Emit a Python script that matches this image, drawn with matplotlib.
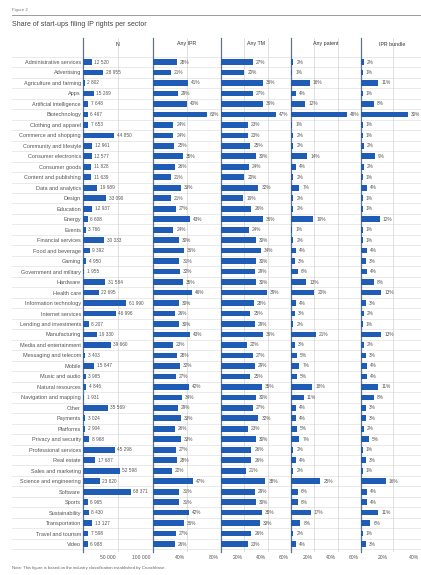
import matplotlib
matplotlib.use('Agg')
import matplotlib.pyplot as plt
import matplotlib.transforms as mtransforms

plt.rcParams['font.family'] = ['Liberation Sans', 'DejaVu Sans']

sectors = ["Administrative services", "Advertising", "Agriculture and farming", "Apps",
           "Artificial intelligence", "Biotechnology", "Clothing and apparel",
           "Commerce and shopping", "Community and lifestyle", "Consumer electronics",
           "Consumer goods", "Content and publishing", "Data and analytics", "Design",
           "Education", "Energy", "Events", "Financial services", "Food and beverage",
           "Gaming", "Government and military", "Hardware", "Health care",
           "Information technology", "Internet services", "Lending and investments",
           "Manufacturing", "Media and entertainment", "Messaging and telecom", "Mobile",
           "Music and audio", "Natural resources", "Navigation and mapping", "Other",
           "Payments", "Platforms", "Privacy and security", "Professional services",
           "Real estate", "Sales and marketing", "Science and engineering", "Software",
           "Sports", "Sustainability", "Transportation", "Travel and tourism", "Video"]

n_startups = [12520, 28955, 2802, 15269, 7648, 6467, 7653, 44850, 12961, 12577, 11828, 11639,
              19989, 33090, 12937, 6608, 3766, 30333, 9392, 4950, 1955, 31584, 22695, 61990,
              46996, 8207, 19330, 39660, 3403, 15847, 3985, 4846, 1931, 35569, 3024, 2904,
              8968, 45298, 17687, 52598, 23820, 68371, 6965, 8430, 13127, 7598, 6988]

any_ipr = [28, 21, 41, 29, 40, 63, 24, 24, 25, 35, 26, 21, 33, 21, 27, 43, 24, 30, 36, 31,
           32, 35, 46, 30, 26, 30, 43, 23, 28, 32, 27, 42, 34, 29, 33, 26, 33, 27, 28, 22,
           47, 31, 31, 42, 36, 27, 26]

any_tm = [27, 20, 36, 27, 36, 47, 23, 23, 25, 30, 24, 20, 32, 19, 26, 36, 24, 30, 34, 30,
          29, 30, 39, 28, 25, 29, 36, 22, 27, 29, 25, 35, 30, 27, 32, 23, 30, 26, 26, 21,
          38, 29, 30, 35, 33, 26, 23]

any_patent = [2, 1, 16, 4, 12, 48, 1, 2, 2, 14, 4, 2, 7, 2, 2, 19, 1, 2, 4, 3,
              6, 13, 20, 4, 3, 2, 21, 3, 5, 7, 5, 18, 11, 4, 4, 5, 7, 2, 4, 2,
              25, 6, 6, 17, 8, 2, 4]

ipr_bundle = [2, 1, 11, 1, 8, 30, 1, 1, 2, 9, 2, 1, 4, 1, 1, 12, 1, 1, 4, 3,
              4, 8, 13, 3, 2, 1, 13, 2, 3, 4, 4, 11, 8, 3, 3, 2, 5, 1, 3, 1,
              16, 4, 4, 11, 6, 1, 3]

W, H = 421, 575
fig = plt.figure(figsize=(W / 100, H / 100), dpi=100)
fig.patch.set_facecolor('white')


def fx(px):
    return px / W


def fy(py):
    return 1 - py / H


top_px, bot_px = 38, 552
row0, pitch = 62, 10.48
nrows = len(sectors)
ytop = (top_px - row0) / pitch
ybot = (bot_px - row0) / pitch
y_head = (44 - row0) / pitch

BLUE = '#1f5cb6'
TXT = '#555555'
AXC = '#61738f'

# background row separators
bg = fig.add_axes([fx(12), fy(bot_px), fx(W - 12), (bot_px - top_px) / H])
bg.set_xlim(0, 1)
bg.set_ylim(ybot, ytop)
bg.axis('off')
for i in range(-1, nrows):
    bg.axhline(i + 0.5, color='#e2e2e2', lw=0.5)

fmt_n = lambda v: f"{v:,}".replace(',', ' ')
fmt_p = lambda v: f"{v}%"

columns = [
    ("N", n_startups, 83, 153, 100000, [50000, 100000], ["50 000", "100 000"], fmt_n, 1200, 2),
    ("Any IPR", any_ipr, 153, 221, 80, [40, 80], ["40%", "80%"], fmt_p, 1.2, 2),
    ("Any TM", any_tm, 221, 291, 60, [20, 40, 60], ["20%", "40%", "60%"], fmt_p, 0.9, 2),
    ("Any patent", any_patent, 291, 361, 60, [20, 40, 60], ["20%", "40%", "60%"], fmt_p, 0.9, 2),
    ("IPR bundle", ipr_bundle, 361, 424, 40, [20, 40], ["20%", "40%"], fmt_p, 0.6, 5),
]

ypos = list(range(nrows))
for k, (name, vals, l, r, xmax, ticks, tlabels, fmt, off, tshift) in enumerate(columns):
    ax = fig.add_axes([fx(l), fy(bot_px), fx(r - l), (bot_px - top_px) / H])
    ax.patch.set_alpha(0)
    ax.barh(ypos, vals, height=0.54, color=BLUE, zorder=3)
    ax.set_xlim(0, xmax)
    ax.set_ylim(ybot, ytop)
    for s in ['top', 'right', 'bottom']:
        ax.spines[s].set_visible(False)
    ax.spines['left'].set_color(AXC)
    ax.spines['left'].set_linewidth(0.9)
    ax.set_xticks(ticks)
    ax.set_xticklabels(tlabels)
    ax.xaxis.grid(True, color='#d4d4d4', lw=0.5, zorder=0)
    ax.tick_params(axis='x', length=0, labelsize=3.6, colors=TXT, pad=2.5)
    shift = mtransforms.ScaledTranslation(-tshift / 100, 0, fig.dpi_scale_trans)
    for lab in ax.get_xticklabels():
        lab.set_ha('right')
        lab.set_transform(lab.get_transform() + shift)
    if k == 0:
        ax.set_yticks(ypos)
        ax.set_yticklabels(sectors)
        ax.tick_params(axis='y', length=0, labelsize=4.0, colors=TXT, pad=1.5)
    else:
        ax.set_yticks([])
    trans = mtransforms.blended_transform_factory(ax.transAxes, ax.transData)
    ax.text(0.5, y_head, name, transform=trans, ha='center', va='center',
            fontsize=3.8, color='#333333')
    for i, v in enumerate(vals):
        ax.text(v + off * 3, i, fmt(v), va='center', ha='left', fontsize=3.4,
                color=TXT, zorder=4, clip_on=False)

fig.text(fx(12), fy(10), "Figure 2", fontsize=3.2, color='#777777', va='center', ha='left')
fig.add_artist(plt.Line2D([fx(12), 1.0], [fy(15), fy(15)], color='#9a9a9a', lw=0.7))
fig.text(fx(12), fy(24), "Share of start-ups filing IP rights per sector", fontsize=5.0,
         color='#444444', va='center', ha='left')
fig.text(fx(12), fy(568), "Note: This figure is based on the industry classification established by Crunchbase.",
         fontsize=3.1, color='#666666', va='center', ha='left')

fig.savefig('out.png', dpi=100, facecolor='white')
